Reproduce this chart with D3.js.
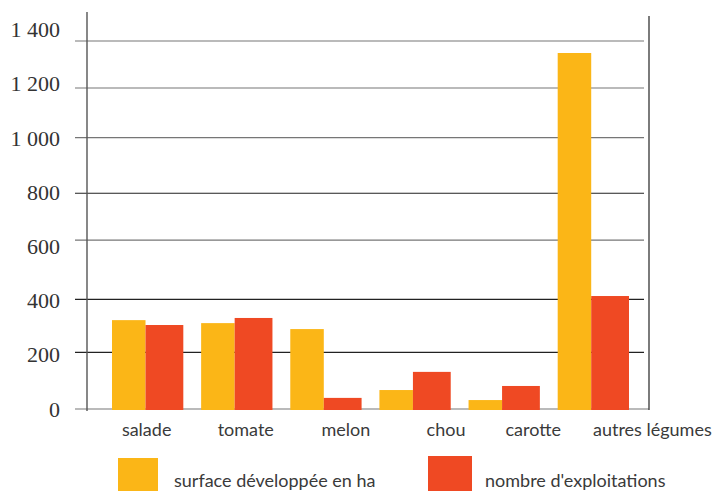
<!DOCTYPE html>
<html>
<head>
<meta charset="utf-8">
<script src="https://cdn.jsdelivr.net/npm/d3@7"></script>
<style>
  body { margin: 0; background: #fff; }
  svg { display: block; }
</style>
</head>
<body>
<div id="chart"></div>
<script>
// donnees
const categories = ['salade', 'tomate', 'melon', 'chou', 'carotte', 'autres légumes'];
const surface = [328, 317, 295, 70, 33, 1314];      // surface développée en ha
const exploitations = [310, 336, 41, 137, 85, 417]; // nombre d'exploitations
const yTicks = [0, 200, 400, 600, 800, 1000, 1200, 1400];
const seriesNames = ['surface développée en ha', "nombre d'exploitations"];

const colors = { surface: '#fbb617', nombre: '#ef4923', text: '#3a3a3a' };

const width = 712, height = 491;

const svg = d3.select('#chart')
    .append('svg')
    .attr('width', width)
    .attr('height', height);

const x = d3.scaleBand()
    .domain(categories)
    .range([112, 629])
    .paddingInner(0.2)
    .paddingOuter(0);

// la barre jaune est un peu plus etroite que la rouge
const yellowPart = 0.47;

const y = d3.scaleLinear()
    .domain([0, 1400])
    .range([409, 29.7]);

// les lignes du modele ne tombent pas pile sur les graduations
const gridNudge = { 200: -2.5, 400: -1.3, 600: -6.4, 800: 1, 1000: -0.4, 1200: 4.1, 1400: 11.3 };
const darkLines = [200, 400, 800];

// lignes horizontales
svg.append('g')
    .selectAll('line')
    .data(yTicks)
    .enter()
    .append('line')
    .attr('x1', 75)
    .attr('x2', d => d === 0 ? 649 : 644)
    .attr('y1', d => y(d) + (gridNudge[d] || 0))
    .attr('y2', d => y(d) + (gridNudge[d] || 0))
    .attr('stroke', d => darkLines.includes(d) ? '#222' : '#767676')
    .attr('stroke-width', 1.2);

// axe gauche et trait de droite
svg.append('line')
    .attr('x1', 87).attr('x2', 87)
    .attr('y1', 12).attr('y2', 411)
    .attr('stroke', '#555').attr('stroke-width', 1.4);

svg.append('line')
    .attr('x1', 649).attr('x2', 649)
    .attr('y1', 16).attr('y2', 410)
    .attr('stroke', '#444').attr('stroke-width', 1.4);

// graduations (format francais "1 400")
const fmt = d => d >= 1000 ? Math.floor(d / 1000) + ' ' + d3.format('03d')(d % 1000) : String(d);

const yAxis = svg.append('g')
    .attr('transform', 'translate(60,0)')
    .call(d3.axisLeft(y).tickValues(yTicks).tickSize(0).tickPadding(0).tickFormat(fmt));
yAxis.select('.domain').remove();
yAxis.selectAll('text')
    .attr('x', 0)
    .style('font-family', '"Liberation Serif", serif')
    .style('font-size', '22px')
    .attr('fill', '#333');

// barres
const rows = categories.map((c, i) => ({ cat: c, surface: surface[i], nombre: exploitations[i] }));

const groups = svg.append('g')
    .selectAll('g')
    .data(rows)
    .enter()
    .append('g')
    .attr('transform', d => `translate(${x(d.cat)},0)`);

const bw = x.bandwidth();
groups.selectAll('rect')
    .data(d => [
        { key: 'surface', value: d.surface, x0: 0, w: bw * yellowPart },
        { key: 'nombre', value: d.nombre, x0: bw * yellowPart, w: bw * (1 - yellowPart) }
    ])
    .enter()
    .append('rect')
    .attr('x', d => d.x0)
    .attr('y', d => y(d.value))
    .attr('width', d => d.w)
    .attr('height', d => y(0) - y(d.value) + 1)
    .attr('fill', d => colors[d.key]);

// etiquettes des categories
const labelShift = [-1, 9, 20, 31, 29, 59];
svg.append('g')
    .selectAll('text')
    .data(categories)
    .enter()
    .append('text')
    .attr('x', (d, i) => x(d) + x.bandwidth() / 2 + labelShift[i])
    .attr('y', 436)
    .attr('text-anchor', 'middle')
    .style('font-family', 'Lato, sans-serif')
    .style('font-size', '18px')
    .attr('fill', colors.text)
    .text(d => d);

// legende
const legend = [
    { name: seriesNames[0], color: colors.surface, x: 118, w: 40, y: 458, tx: 174 },
    { name: seriesNames[1], color: colors.nombre, x: 428, w: 44, y: 456, tx: 485 }
];

const lg = svg.append('g')
    .selectAll('g')
    .data(legend)
    .enter()
    .append('g');

lg.append('rect')
    .attr('x', d => d.x)
    .attr('y', d => d.y)
    .attr('width', d => d.w)
    .attr('height', 40)
    .attr('fill', d => d.color);

lg.append('text')
    .attr('x', d => d.tx)
    .attr('y', 487)
    .style('font-family', 'Lato, sans-serif')
    .style('font-size', '18px')
    .attr('fill', colors.text)
    .text(d => d.name);
</script>
</body>
</html>
